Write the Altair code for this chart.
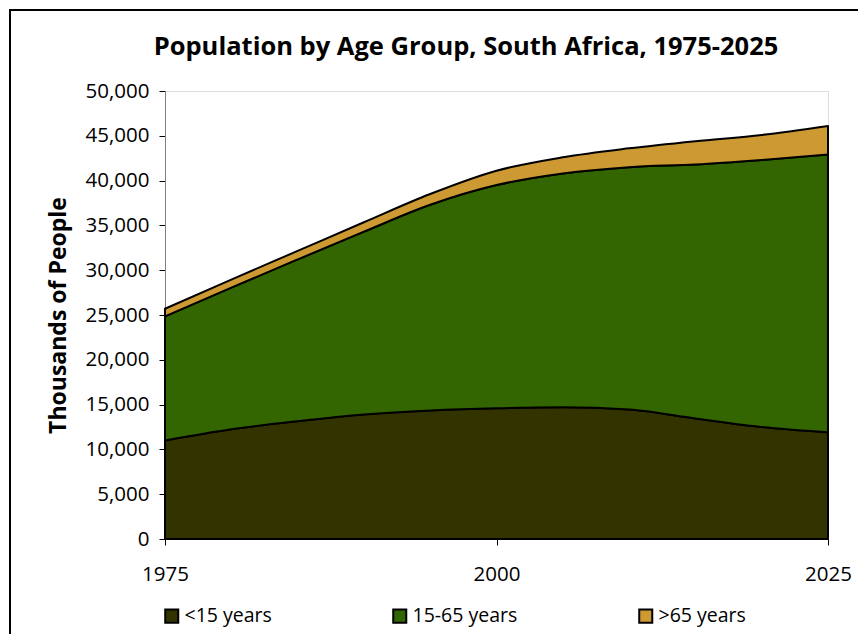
import altair as alt
import pandas as pd

years = [1975, 1980, 1985, 1990, 1995, 2000, 2005, 2010, 2015, 2020, 2025]
under15 = [11000, 12250, 13150, 13900, 14350, 14600, 14700, 14450, 13450, 12500, 11900]
age15_65 = [13850, 15800, 18050, 20400, 22950, 24900, 26100, 27050, 28350, 29800, 31000]
over65 = [850, 900, 950, 1050, 1200, 1600, 1800, 2100, 2600, 2800, 3200]
groups = ["<15 years", "15-65 years", ">65 years"]
colors = ["#333300", "#336600", "#CC9933"]
y_ticks = list(range(0, 50001, 5000))
x_ticks = [1975, 2000, 2025]
title_text = "Population by Age Group, South Africa, 1975-2025"

rows = []
for gi, (g, vals) in enumerate(zip(groups, [under15, age15_65, over65])):
    for yr, v in zip(years, vals):
        rows.append({"Year": yr, "Group": g, "Value": v, "ord": gi})
df = pd.DataFrame(rows)

FONT = "Open Sans"

area = alt.Chart(df).mark_area(
    interpolate="monotone", stroke="black", strokeWidth=2, strokeJoin="round"
).encode(
    x=alt.X("Year:Q", scale=alt.Scale(domain=[1975, 2025], nice=False, zero=False),
            axis=alt.Axis(values=x_ticks, format="d", title=None, grid=False,
                          labelFontSize=20.5, labelColor="#000", labelFont=FONT,
                          tickSize=6, tickColor="#000", domainColor="#808080",
                          labelPadding=19, labelFlush=False)),
    y=alt.Y("Value:Q", stack="zero", scale=alt.Scale(domain=[0, 50000], nice=False),
            axis=alt.Axis(values=y_ticks, format=",.0f", title="Thousands of People", grid=False,
                          labelFontSize=20.5, labelColor="#000", labelFont=FONT,
                          titleFontSize=23, titleFont=FONT, titleFontWeight="bold",
                          titleColor="#000", titlePadding=15,
                          tickSize=6, tickColor="#000", domainColor="#808080",
                          labelPadding=10)),
    color=alt.Color("Group:N", scale=alt.Scale(domain=groups, range=colors),
                    legend=alt.Legend(title=None, orient="none", direction="horizontal",
                                      legendX=-3, legendY=515,
                                      symbolType="square", symbolSize=170,
                                      symbolStrokeColor="black", symbolStrokeWidth=2,
                                      symbolOpacity=1,
                                      labelFontSize=19.5, labelFont=FONT, labelColor="#000",
                                      columnPadding=117, labelOffset=3)),
    order=alt.Order("ord:Q", sort="ascending"),
)

base1 = alt.Chart(pd.DataFrame({"a": [0]}))

frame = base1.mark_rect(fill=None, stroke="black", strokeWidth=2).encode(
    x=alt.value(-155), y=alt.value(-81), x2=alt.value(720), y2=alt.value(570)
)

title = base1.mark_text(
    fontSize=25.5, font=FONT, fontWeight="bold", color="#000",
    align="center", baseline="middle"
).encode(x=alt.value(301), y=alt.value(-44), text=alt.value(title_text))

chart = alt.layer(area, frame, title).properties(
    width=663, height=448,
    autosize=alt.AutoSizeParams(type="none"),
    padding={"left": 157, "top": 83, "right": 30, "bottom": 95},
).configure_view(stroke=None).configure(background="white")

chart.save("out.html", embed_options={"renderer": "svg", "actions": False})
